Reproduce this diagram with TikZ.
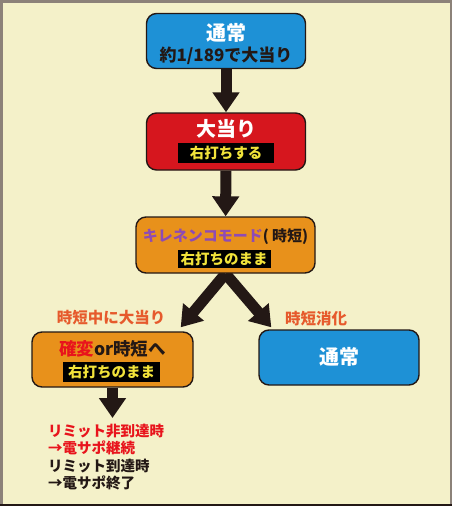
\documentclass[tikz,border=0pt]{standalone}
\usepackage{fontspec}
\setmainfont{Noto Sans CJK JP}
\usetikzlibrary{arrows.meta,backgrounds}

\definecolor{bg_yellow}{HTML}{F4F1C9}
\definecolor{frame_gray}{HTML}{8C8279}
\definecolor{box_blue}{HTML}{1E91D6}
\definecolor{box_red}{HTML}{D6161E}
\definecolor{box_orange}{HTML}{E8911B}
\definecolor{label_orange}{HTML}{E65A2C}
\definecolor{mode_purple}{HTML}{8E4BB5}
\definecolor{band_yellow}{HTML}{F2E33A}
\definecolor{text_red}{HTML}{E8141C}
\definecolor{text_dark}{HTML}{231815}

\begin{document}
\begin{tikzpicture}[x=1pt,y=-1pt,
	flow_box/.style={draw=text_dark,line width=1.4pt,rounded corners=10pt,minimum width=159pt,minimum height=55pt,inner sep=0pt},
	title_node/.style={inner sep=0pt,text=white,font=\fontsize{20}{20}\selectfont\bfseries},
	band_node/.style={fill=black,text=band_yellow,inner xsep=3pt,inner ysep=0pt,minimum height=20pt,font=\fontsize{14.5}{15}\selectfont\bfseries},
	label_node/.style={inner sep=0pt,text=label_orange,font=\fontsize{15.5}{16}\selectfont\bfseries},
	big_arrow/.style={draw=text_dark,line width=11pt,-{Triangle[width=26pt,length=20pt]}}]
	\useasboundingbox (0,0) rectangle (452,506);
	\node[flow_box,fill=box_blue] (1) at (226,41) {};
	\node[title_node] (1a) at (226,32.5) {通常};
	\node[inner sep=0pt,text=text_dark,font=\fontsize{17}{17}\selectfont\bfseries] (1b) at (226,56) {約1/189で大当り};
	\node[flow_box,fill=box_red,minimum height=57pt] (2) at (226,141.5) {};
	\node[title_node] (2a) at (226,129) {大当り};
	\node[band_node,minimum width=96pt] (2b) at (226,153) {右打ちする};
	\node[flow_box,fill=box_orange,minimum width=179pt,minimum height=56pt] (3) at (225.5,245) {};
	\node[inner sep=0pt,text=text_dark,font=\fontsize{15}{15}\selectfont\bfseries] (3a) at (225.5,237) {\textcolor{mode_purple}{キレネンコモード}( 時短)};
	\node[band_node,minimum width=92pt,minimum height=18pt] (3b) at (224,259) {右打ちのまま};
	\node[flow_box,fill=box_orange,minimum width=161pt] (4) at (112.5,359.5) {};
	\node[inner sep=0pt,text=text_dark,font=\fontsize{17.5}{17.5}\selectfont\bfseries] (4a) at (112.5,349) {\textcolor{text_red}{確変}or時短へ};
	\node[band_node,minimum width=97pt] (4b) at (111.5,372) {右打ちのまま};
	\node[flow_box,fill=box_blue,minimum width=160pt] (5) at (339,357.5) {};
	\node[title_node] (5a) at (339,357) {通常};
	\node[label_node] (6) at (111,318) {時短中に大当り};
	\node[label_node] (7) at (316,319) {時短消化};
	\node[anchor=west,align=left,inner sep=0pt,text=text_dark,font=\fontsize{14.5}{17.4}\selectfont\bfseries] (8) at (48,457)
		{\textcolor{text_red}{リミット非到達時}\\\textcolor{text_red}{→電サポ継続}\\リミット到達時\\→電サポ終了};
	\coordinate (9) at (112.5,418);
	\begin{pgfonlayer}{background}
		\fill[bg_yellow] (0,0) rectangle (452,506);
		\draw[big_arrow] (1) -- (2);
		\draw[big_arrow] (2) -- (3);
		\draw[big_arrow] (3.south) -- ([xshift=-13pt,yshift=4pt]4.north east);
		\draw[big_arrow] (3.south) -- ([xshift=13pt,yshift=2pt]5.north west);
		\draw[big_arrow] (4) -- (9);
	\end{pgfonlayer}
	% frame
	\draw[frame_gray,line width=2.5pt] (1.25,506) -- (1.25,1.25) -- (450.75,1.25) -- (450.75,506);
	\draw[text_dark,line width=2.5pt] (0,504.75) -- (452,504.75);
\end{tikzpicture}
\end{document}
